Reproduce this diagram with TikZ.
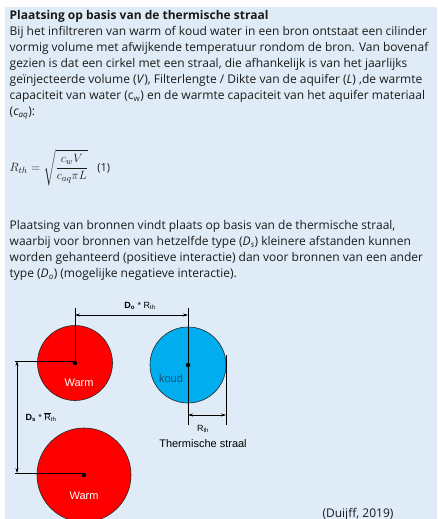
\documentclass[tikz,border=0pt]{standalone}
\usepackage{amsmath}
\usepackage{fontspec}
\setmainfont{Open Sans}
\newfontfamily\figfont{Liberation Sans}
\usetikzlibrary{arrows.meta, positioning}

\definecolor{bgblue}{HTML}{DFECF8}
\definecolor{warmred}{HTML}{FF0000}
\definecolor{koudblue}{HTML}{00AEEF}
\definecolor{koudtxt}{HTML}{1D4E6E}
\definecolor{tekst}{HTML}{1A1A1A}

\tikzset{
  bron/.style={circle, draw=black!85, line width=0.6pt, inner sep=0pt},
  stip/.style={circle, fill=black, inner sep=0pt, minimum size=4.5pt},
  maat/.style={{Stealth[length=5pt,width=3pt]}-{Stealth[length=5pt,width=3pt]}, line width=0.5pt},
  hulp/.style={line width=0.5pt},
  bijschrift/.style={font=\figfont\fontsize{11}{12}\selectfont, inner sep=0pt},
  maatschrift/.style={font=\figfont\fontsize{9}{10}\selectfont, inner sep=0pt},
  alinea/.style={anchor=north west, inner sep=0pt, align=left, text=tekst,
    font=\fontsize{12}{16.1}\selectfont}
}

\begin{document}
\begin{tikzpicture}[x=1pt, y=-1pt]
  \useasboundingbox (0,0) rectangle (437,519);
  \fill[bgblue] (5,7) rectangle (437,519);

  % tekst
  \node (intro) [alinea] at (9.5,10) {\textbf{Plaatsing op basis van de thermische straal}\\
    Bij het infiltreren van warm of koud water in een bron ontstaat een cilinder\\
    vormig volume met afwijkende temperatuur rondom de bron. Van bovenaf\\
    gezien is dat een cirkel met een straal, die afhankelijk is van het jaarlijks\\
    geïnjecteerde volume (\textit{V}), Filterlengte / Dikte van de aquifer (\textit{L}) ,de warmte\\
    capaciteit van water (c\textsubscript{w}) en de warmte capaciteit van het aquifer materiaal\\
    (\textit{c\textsubscript{aq}}):};
  \node (formule) [anchor=west, inner sep=0pt, text=tekst, font=\fontsize{13}{16}\selectfont] at (9.5,168)
    {$R_{th} = \sqrt{\dfrac{c_w V}{c_{aq}\pi L}}$};
  \node (nr) [right=9pt of formule, inner sep=0pt, text=tekst, font=\fontsize{11}{12}\selectfont] {(1)};
  \node (plaatsing) [alinea] at (9.5,220) {Plaatsing van bronnen vindt plaats op basis van de thermische straal,\\
    waarbij voor bronnen van hetzelfde type (\textit{D\textsubscript{s}}) kleinere afstanden kunnen\\
    worden gehanteerd (positieve interactie) dan voor bronnen van een ander\\
    type (\textit{D\textsubscript{o}}) (mogelijke negatieve interactie).};

  % bronnen
  \node (warm1) [bron, fill=warmred, minimum size=75pt] at (75,363) {};
  \node (koud) [bron, fill=koudblue, minimum size=76pt] at (188,365) {};
  \node (warm2) [bron, fill=warmred, minimum size=94pt] at (84,475) {};

  \node [bijschrift, text=white] at (79,383) {Warm};
  \node [bijschrift, text=white] at (84,496) {Warm};
  \node [bijschrift, text=koudtxt] at (171,379) {koud};

  % hulplijnen
  \coordinate (w1top) at (75,308);
  \coordinate (ktop) at (188,308);
  \coordinate (kbot) at (188,425);
  \coordinate (rtop) at (226,355);
  \coordinate (rbot) at (226,425);
  \coordinate (w1links) at (15,361);
  \coordinate (w2links) at (15,473);
  \draw[hulp] (w1top) -- (warm1.center);
  \draw[hulp] (ktop) -- (kbot);
  \draw[hulp] (rtop) -- (rbot);
  \draw[hulp] (w1links) -- (warm1.center |- w1links);
  \draw[hulp] (w2links) -- (warm2.center |- w2links);

  \node [stip] at (warm1.center) {};
  \node [stip] at (koud.center) {};
  \node [stip] at (warm2.center) {};

  % maatlijnen
  \draw[maat] (75,315) -- (188,315);
  \draw[maat] (188,415) -- (226,415);
  \draw[maat] (17,361) -- (17,473);

  \node (do) [maatschrift] at (140,306) {\textbf{D\textsubscript{o}} * R\textsubscript{th}};
  \node (ds) [maatschrift] at (41,417) {\textbf{D\textsubscript{s}} * $\overline{\mbox{R}}$\textsubscript{th}};
  \node (rth) [maatschrift] at (203,429) {R\textsubscript{th}};
  \node (straal) [bijschrift] at (203,444) {Thermische straal};

  \node (bron) [inner sep=0pt, text=tekst, font=\fontsize{12}{14}\selectfont] at (358,514) {(Duijff, 2019)};
\end{tikzpicture}
\end{document}
